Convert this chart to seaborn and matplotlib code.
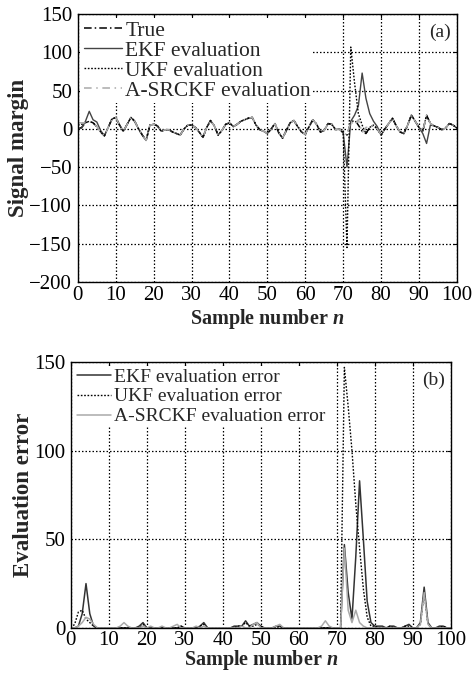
import numpy as np
import pandas as pd
import matplotlib
matplotlib.use("Agg")
import matplotlib.pyplot as plt
import seaborn as sns

# ==================================================
# Data
# ==================================================
n = list(range(101))

true_sig = [0, 2, 8, 10, 8, 3, -4, -9, 2, 13,
            15, 5, -3, 6, 15, 10, 0, -8, -15, 5,
            6, 4, -3, -1, -1, -4, -6, -8, 0, 5,
            5, 2, -4, -11, 2, 11, 4, -8, -2, 6,
            8, 3, 6, 10, 12, 14, 15, 5, -1, -3,
            -6, 0, 7, -5, -12, -2, 8, 11, 3, -4,
            -7, 3, 12, 6, -4, -2, 7, 6, -1, 0,
            -5, -8, 8, 12, 5, -3, -6, 2, 5, 0,
            -8, 0, 7, 14, 4, -4, -6, 5, 18, 10,
            2, -3, 18, 7, 4, 2, -1, 1, 7, 5, 1]

ekf_sig = [0, 1, 10, 23, 12, 9, -2, -9, 2, 13,
           15, 5, -3, 6, 15, 10, 0, -8, -15, 5,
           6, 4, -3, -1, -1, -4, -6, -8, 0, 5,
           5, 2, -4, -11, 2, 11, 4, -8, -2, 6,
           8, 3, 6, 10, 12, 14, 15, 5, -1, -3,
           -6, 0, 7, -5, -12, -2, 8, 11, 3, -4,
           -7, 3, 12, 6, -4, -2, 7, 6, -1, 0,
           -5, -50, 10, 18, 30, 73, 40, 20, 10, 3,
           -8, 0, 7, 14, 4, -4, -6, 5, 18, 10,
           2, -6, -19, 5, 4, 2, -1, 1, 7, 5, 1]

ukf_sig = [5, 6, 8, 10, 8, 3, -4, -9, 2, 13,
           15, 5, -3, 6, 15, 10, 0, -8, -15, 5,
           6, 4, -3, -1, -1, -4, -6, -8, 0, 5,
           5, 2, -4, -11, 2, 11, 4, -8, -2, 6,
           8, 3, 6, 10, 12, 14, 15, 5, -1, -3,
           -6, 0, 7, -5, -12, -2, 8, 11, 3, -4,
           -7, 3, 12, 6, -4, -2, 7, 6, -1, 0,
           -5, -155, 107, 60, 20, 5, -6, 2, 5, 0,
           -8, 0, 7, 14, 4, -4, -6, 5, 18, 10,
           2, -3, 18, 7, 4, 2, -1, 1, 7, 5, 1]

srckf_sig = [8, 8, 8, 10, 8, 3, -4, -9, 2, 13,
             15, 5, -3, 6, 15, 10, 0, -8, -15, 5,
             6, 4, -3, -1, -1, -4, -6, -8, 0, 5,
             5, 2, -4, -11, 2, 11, 4, -8, -2, 6,
             8, 3, 6, 10, 12, 14, 15, 5, -1, -3,
             -6, 0, 7, -5, -12, -2, 8, 11, 3, -4,
             -7, 3, 12, 6, -4, -2, 7, 6, -1, 0,
             -5, -8, 10, 5, 12, -5, 2, 2, 5, 0,
             -8, 0, 7, 14, 4, -4, -6, 5, 18, 10,
             2, -3, 18, 7, 4, 2, -1, 1, 7, 5, 1]

ekf_err = [0, 0, 1, 8, 25, 8, 1, 0, 0, 0,
           0, 0, 0, 0, 0, 0, 0, 0, 1, 3,
           0, 0, 0, 0, 0, 0, 0, 0, 0, 1,
           0, 0, 0, 0, 1, 3, 0, 0, 0, 0,
           0, 0, 0, 1, 1, 1, 4, 1, 2, 3,
           1, 0, 0, 0, 1, 1, 0, 0, 0, 0,
           0, 0, 0, 0, 0, 0, 0, 0, 0, 0,
           0, 0, 47, 20, 5, 40, 83, 50, 15, 3,
           1, 1, 1, 0, 1, 1, 0, 0, 1, 2,
           0, 0, 3, 23, 3, 0, 0, 1, 1, 0, 0]

ukf_err = [0, 2, 9, 10, 5, 3, 1, 0, 0, 0,
           0, 0, 0, 0, 0, 0, 0, 0, 0, 2,
           0, 0, 0, 0, 0, 0, 0, 0, 0, 1,
           0, 0, 0, 0, 1, 2, 0, 0, 0, 0,
           0, 0, 0, 0, 1, 1, 3, 1, 1, 2,
           1, 0, 0, 0, 0, 1, 0, 0, 0, 0,
           0, 0, 0, 0, 0, 0, 0, 0, 0, 0,
           0, 0, 147, 125, 100, 70, 45, 22, 6, 1,
           1, 0, 0, 0, 1, 0, 0, 0, 1, 1,
           0, 0, 2, 20, 2, 0, 0, 0, 1, 0, 0]

srckf_err = [0, 0, 1, 3, 6, 5, 2, 0, 0, 0,
             0, 0, 0, 1, 3, 1, 0, 0, 0, 1,
             0, 1, 0, 0, 1, 0, 0, 1, 2, 0,
             0, 0, 0, 1, 0, 1, 0, 0, 0, 0,
             0, 0, 0, 0, 0, 1, 0, 0, 2, 3,
             0, 0, 0, 0, 1, 2, 0, 0, 0, 0,
             0, 0, 0, 0, 0, 0, 1, 4, 1, 0,
             0, 0, 45, 10, 3, 10, 3, 1, 0, 0,
             0, 0, 0, 0, 0, 0, 0, 0, 0, 0,
             0, 0, 2, 20, 2, 0, 0, 0, 0, 0, 0]

df_a = pd.DataFrame({"n": n, "True": true_sig, "EKF": ekf_sig,
                     "UKF": ukf_sig, "SRCKF": srckf_sig})
df_b = pd.DataFrame({"n": n, "EKF": ekf_err, "UKF": ukf_err, "SRCKF": srckf_err})

# ==================================================
# Style
# ==================================================
sns.set_style("white")
plt.rcParams['font.family'] = ['Liberation Serif', 'DejaVu Serif']
plt.rcParams['mathtext.fontset'] = 'custom'
plt.rcParams['mathtext.it'] = 'Liberation Serif:italic:bold'
plt.rcParams['mathtext.rm'] = 'Liberation Serif'

fig = plt.figure(figsize=(4.72, 6.73), dpi=100)
ax1 = fig.add_axes([0.165, 0.581, 0.803, 0.398])
ax2 = fig.add_axes([0.150, 0.067, 0.805, 0.395])

grid_kw = dict(color='black', linestyle=(0, (1.2, 1.6)), linewidth=0.9)


def style_axis(ax, xpad):
    ax.grid(True, **grid_kw)
    ax.set_axisbelow(True)
    for s in ax.spines.values():
        s.set_color('black')
        s.set_linewidth(1.0)
    ax.tick_params(direction='in', length=3, labelsize=15, colors='black',
                   top=True, right=True)
    ax.tick_params(axis='y', pad=4)
    ax.tick_params(axis='x', pad=xpad)


def style_legend(ax, size, spacing):
    leg = ax.legend(loc='upper left', fontsize=size, frameon=True, fancybox=False,
                    borderpad=0.1, labelspacing=spacing, handlelength=1.75,
                    handletextpad=0.15, borderaxespad=0.2)
    leg.get_frame().set_facecolor('white')
    leg.get_frame().set_edgecolor('none')
    leg.get_frame().set_alpha(1)


# ---------- panel (a) ----------
sns.lineplot(data=df_a, x="n", y="True", ax=ax1, color='black', lw=1.1,
             linestyle=(0, (5, 2, 1, 2)), label="True")
sns.lineplot(data=df_a, x="n", y="EKF", ax=ax1, color='#444444', lw=1.0,
             label="EKF evaluation")
sns.lineplot(data=df_a, x="n", y="UKF", ax=ax1, color='black', lw=1.0,
             linestyle=(0, (1.2, 1.2)), label="UKF evaluation")
sns.lineplot(data=df_a, x="n", y="SRCKF", ax=ax1, color='#aaaaaa', lw=1.1,
             linestyle=(0, (5, 3, 1, 3)), label="A-SRCKF evaluation")
ax1.set_xlim(0, 100)
ax1.set_ylim(-200, 150)
ax1.set_xticks(range(0, 101, 10))
ax1.set_yticks(range(-200, 151, 50))
style_axis(ax1, 3)
ax1.set_xlabel(r"Sample number $n$", fontsize=14.5, fontweight='bold', labelpad=1)
ax1.set_ylabel("Signal margin", fontsize=16.5, fontweight='bold', labelpad=0)
ax1.text(0.985, 0.965, "(a)", transform=ax1.transAxes, ha='right', va='top',
         fontsize=14)
style_legend(ax1, 15.5, 0.0)

# ---------- panel (b) ----------
sns.lineplot(data=df_b, x="n", y="EKF", ax=ax2, color='#333333', lw=1.1,
             label="EKF evaluation error")
sns.lineplot(data=df_b, x="n", y="UKF", ax=ax2, color='black', lw=1.0,
             linestyle=(0, (1.2, 1.2)), label="UKF evaluation error")
sns.lineplot(data=df_b, x="n", y="SRCKF", ax=ax2, color='#aaaaaa', lw=1.1,
             label="A-SRCKF evaluation error")
ax2.set_xlim(0, 100)
ax2.set_ylim(0, 150)
ax2.set_xticks(range(0, 101, 10))
ax2.set_yticks([0, 50, 100, 150])
style_axis(ax2, 2)
ax2.set_xlabel(r"Sample number $n$", fontsize=14.5, fontweight='bold', labelpad=-1)
ax2.set_ylabel("Evaluation error", fontsize=16.5, fontweight='bold', labelpad=0)
ax2.text(0.985, 0.965, "(b)", transform=ax2.transAxes, ha='right', va='top',
         fontsize=14)
style_legend(ax2, 14, 0.12)

plt.savefig("out.png", dpi=100)
